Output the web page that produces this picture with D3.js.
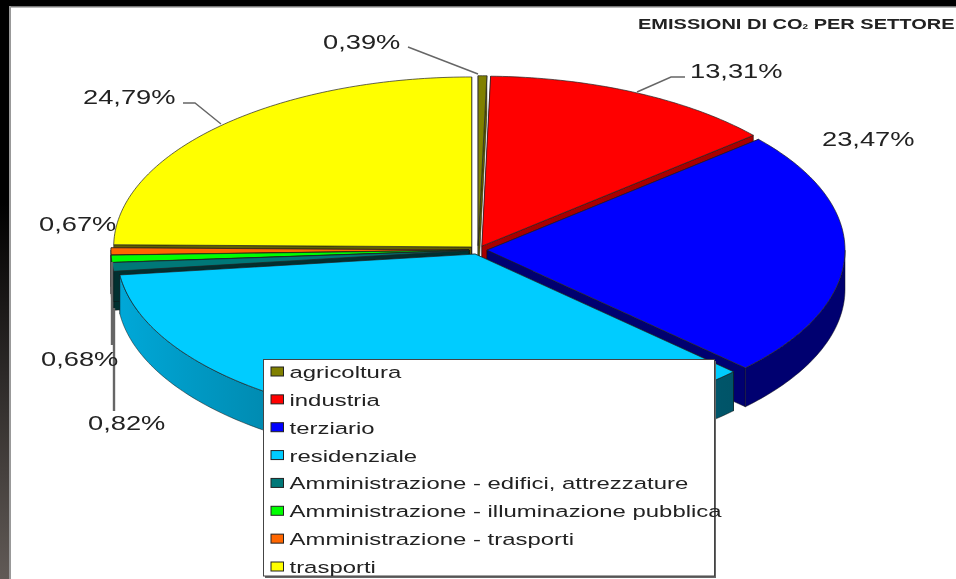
<!DOCTYPE html>
<html>
<head>
<meta charset="utf-8">
<script src="https://cdnjs.cloudflare.com/ajax/libs/d3/7.8.5/d3.min.js"></script>
<style>
  html, body { margin: 0; padding: 0; background: #fff; overflow: hidden; }
  svg { display: block; filter: blur(0.55px); }
  text { font-family: "Liberation Sans", Arial, sans-serif; fill: #222; }
</style>
</head>
<body>
<svg width="956" height="579"></svg>
<script>
// values as printed on the labels, residenziale is what is left of 100
const categories = ['agricoltura', 'industria', 'terziario', 'residenziale',
  'Amministrazione - edifici, attrezzature', 'Amministrazione - illuminazione pubblica',
  'Amministrazione - trasporti', 'trasporti'];
const values = [0.39, 13.31, 23.47, 35.87, 0.82, 0.68, 0.67, 24.79];
const valueLabels = ['0,39%', '13,31%', '23,47%', '', '0,82%', '0,68%', '0,67%', '24,79%'];
const topColors = ['#808000', '#ff0000', '#0000ff', '#00ccff', '#007878', '#00ff00', '#ff6600', '#ffff00'];
const sideColors = ['#606000', '#a80000', '#000070', 'url(#resSide)', '#003030', '#008000', '#a04000', '#606000'];
const drawOrder = [0, 1, 2, 7, 6, 5, 4, 3];

const svg = d3.select('svg');
const width = 956, height = 579;

const cx = 478, cy = 250, rx = 358, ry = 170, depth = 39, explode = 9;

const defs = svg.append('defs');
const grad = defs.append('linearGradient').attr('id', 'resSide')
  .attr('gradientUnits', 'userSpaceOnUse')
  .attr('x1', 118).attr('x2', 730).attr('y1', 0).attr('y2', 0);
grad.append('stop').attr('offset', 0).attr('stop-color', '#00a8d8');
grad.append('stop').attr('offset', 0.3).attr('stop-color', '#0084a8');
grad.append('stop').attr('offset', 1).attr('stop-color', '#005468');
const frameGrad = defs.append('linearGradient').attr('id', 'frame')
  .attr('x1', 0).attr('x2', 0).attr('y1', 0).attr('y2', 1);
frameGrad.append('stop').attr('offset', 0.35).attr('stop-color', '#000');
frameGrad.append('stop').attr('offset', 1).attr('stop-color', '#615a56');

// page frame
svg.append('rect').attr('width', width).attr('height', height).attr('fill', '#fff');
svg.append('rect').attr('width', width).attr('height', 6).attr('fill', '#000');
svg.append('rect').attr('y', 6).attr('width', width).attr('height', 1.5).attr('fill', '#777');
svg.append('rect').attr('width', 9).attr('height', height).attr('fill', 'url(#frame)');
svg.append('rect').attr('x', 9).attr('y', 6).attr('width', 2).attr('height', height).attr('fill', '#999');

const arcs = d3.pie().sort(null).value(d => d)(values);

const px = (c, a) => c.x + rx * Math.sin(a);
const py = (c, a) => c.y - ry * Math.cos(a);
const line = d3.line();

function centerOf(d) {
  const mid = (d.startAngle + d.endAngle) / 2;
  return { x: cx + explode * Math.sin(mid), y: cy - explode * (ry / rx) * Math.cos(mid) };
}

function rim(c, a0, a1, dy) {
  const n = Math.max(2, Math.ceil((a1 - a0) * 60));
  return d3.range(n + 1).map(i => {
    const a = a0 + (a1 - a0) * i / n;
    return [px(c, a), py(c, a) + dy];
  });
}

const slices = svg.append('g').selectAll('g')
  .data(drawOrder.map(i => ({ arc: arcs[i], i })))
  .enter().append('g');

slices.each(function (s) {
  const g = d3.select(this), d = s.arc, c = centerOf(d);
  const side = sideColors[s.i];
  // radial walls
  [d.startAngle, d.endAngle].forEach(a => {
    g.append('path')
      .attr('d', line([[c.x, c.y], [px(c, a), py(c, a)], [px(c, a), py(c, a) + depth], [c.x, c.y + depth]]) + 'Z')
      .attr('fill', s.i === 3 ? '#005468' : side)
      .attr('stroke', '#111').attr('stroke-width', 0.5);
  });
  // outer wall, only the front half of the ellipse shows
  const a0 = Math.max(d.startAngle, Math.PI / 2), a1 = Math.min(d.endAngle, Math.PI * 1.5);
  if (a1 > a0) {
    const pts = rim(c, a0, a1, 0).concat(rim(c, a0, a1, depth).reverse());
    g.append('path').attr('d', line(pts) + 'Z')
      .attr('fill', side).attr('stroke', '#111').attr('stroke-width', 0.5);
  }
  // top
  const top = [[c.x, c.y]].concat(rim(c, d.startAngle, d.endAngle, 0));
  g.append('path').attr('d', line(top) + 'Z')
    .attr('fill', topColors[s.i]).attr('stroke', '#222').attr('stroke-width', 0.7);
});

// leader lines go from the rim out to the label
const leaderStops = [
  [[408, 47], [478, 74]],
  [[685, 77], [671, 77], [637, 92]],
  [[114, 308], [114, 411]],
  [[112, 262], [112, 345]],
  [[183, 103], [195, 103], [221, 124]]
];
const leaderWidths = [1.4, 1.4, 2.4, 2.4, 1.4];
svg.append('g').selectAll('path')
  .data(leaderStops)
  .enter().append('path')
  .attr('d', d => line(d))
  .attr('fill', 'none').attr('stroke', '#666').attr('stroke-width', (d, i) => leaderWidths[i]);

const labelPos = [[323, 49], [690, 78], [822, 146], null, [88, 430], [41, 366], [39, 231], [83, 104]];
const stretch = 1.3;
svg.append('g').selectAll('text')
  .data(valueLabels.map((t, i) => ({ t, p: labelPos[i] })).filter(d => d.p))
  .enter().append('text')
  .attr('transform', d => `translate(${d.p[0]},${d.p[1]}) scale(${stretch},1)`)
  .attr('font-size', 21)
  .text(d => d.t);

// title
const title = svg.append('text')
  .attr('transform', 'translate(638,29) scale(1.43,1)')
  .attr('font-size', 14).attr('font-weight', 'bold');
title.append('tspan').text('EMISSIONI DI CO');
title.append('tspan').attr('font-size', 7).text('2');
title.append('tspan').text(' PER SETTORE');

// legend
const legend = svg.append('g');
legend.append('rect').attr('x', 265).attr('y', 361).attr('width', 451).attr('height', 217).attr('fill', '#666');
legend.append('rect').attr('x', 263.5).attr('y', 359.5).attr('width', 451).attr('height', 216.5)
  .attr('fill', '#fff').attr('stroke', '#444').attr('stroke-width', 1);

const legendY = d3.scalePoint().domain(categories).range([372, 567]);
const rows = legend.selectAll('g.row').data(categories).enter().append('g').attr('class', 'row');
rows.append('rect')
  .attr('x', 271).attr('y', d => legendY(d) - 5)
  .attr('width', 12.5).attr('height', 9)
  .attr('fill', (d, i) => topColors[i]).attr('stroke', '#222').attr('stroke-width', 1);
rows.append('text')
  .attr('transform', d => `translate(289.5,${legendY(d) + 6}) scale(1.45,1)`)
  .attr('font-size', 16.5)
  .text(d => d);
</script>
</body>
</html>
